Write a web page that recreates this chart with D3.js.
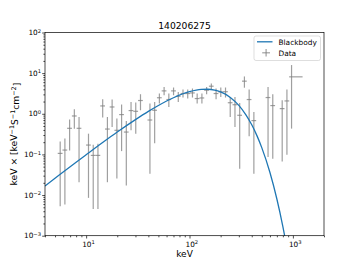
<!DOCTYPE html>
<html>
<head>
<meta charset="utf-8">
<script src="https://cdn.jsdelivr.net/npm/d3@7"></script>
<style>
  body { margin: 0; background: #fff; }
  svg { display: block; font-family: "DejaVu Sans", sans-serif; }
</style>
</head>
<body>
<div id="chart"></div>
<script>
// ---- data ----
var title = '140206275';

// binned spectrum (keV), x error bars
var energy = [5.61, 6.23, 6.92, 7.69, 8.54, 10.54, 11.71, 13.01, 14.46, 16.06,
    17.84, 19.83, 22.03, 24.47, 27.19, 30.20, 33.56, 41.42, 46.01, 51.12,
    56.79, 63.09, 70.09, 77.87, 86.50, 96.1, 106.8, 118.6, 131.8, 146.4,
    162.6, 180.7, 200.7, 223.0, 247.7, 275.3, 305.8, 339.8, 377.5, 419.4,
    575.1, 638.9, 788.2, 875.7, 971];
var energyErrLo = [0.30, 0.33, 0.37, 0.41, 0.45, 0.56, 0.62, 0.69, 0.77, 0.85,
    0.95, 1.05, 1.17, 1.30, 1.44, 1.60, 1.78, 2.20, 2.44, 2.71,
    3.01, 3.34, 3.71, 4.13, 4.58, 5.1, 5.7, 6.3, 7.0, 7.8,
    8.6, 9.6, 10.6, 11.8, 13.1, 14.6, 16.2, 18.0, 20.0, 22.2,
    30.5, 33.9, 41.8, 46.4, 51];
var energyErrHi = [0.30, 0.33, 0.37, 0.41, 0.45, 0.56, 0.62, 0.69, 0.77, 0.85,
    0.95, 1.05, 1.17, 1.30, 1.44, 1.60, 1.78, 2.20, 2.44, 2.71,
    3.01, 3.34, 3.71, 4.13, 4.58, 5.1, 5.7, 6.3, 7.0, 7.8,
    8.6, 9.6, 10.6, 11.8, 13.1, 14.6, 16.2, 18.0, 20.0, 22.2,
    30.5, 33.9, 41.8, 46.4, 270];

// E x N(E) and the ends of the y error bars
var flux = [0.106, 0.128, 0.439, 0.883, 0.439, 0.170, 0.0945, 0.0945, 1.56, 0.421,
    1.47, 0.392, 0.955, 0.355, 1.20, 1.15, 2.12, 0.703, 1.22, 2.48,
    3.66, 2.24, 3.66, 2.70, 3.15, 3.15, 3.26, 2.37, 2.45, 3.80,
    4.77, 3.15, 3.45, 3.49, 1.87, 1.67, 0.918, 6.35, 2.24, 0.679,
    2.51, 1.59, 1.34, 2.07, 8.11];
var fluxHigh = [0.209, 0.248, 0.719, 1.29, 0.834, 0.324, 0.174, 0.184, 2.28, 0.834,
    2.24, 0.761, 1.69, 0.664, 1.96, 1.89, 3.03, 1.79, 1.96, 3.15,
    4.59, 3.15, 4.43, 3.45, 3.96, 3.96, 4.19, 3.15, 3.15, 4.59,
    5.57, 4.19, 4.43, 4.43, 2.60, 2.60, 1.85, 8.29, 3.96, 1.11,
    4.59, 3.03, 2.15, 3.96, 15.8];
var fluxLow = [0.00529, 0.00582, 0.1256, 0.431, 0.0207, 0.00853, 0.00456, 0.00456, 0.806, 0.0207,
    0.472, 0.0255, 0.1206, 0.0172, 0.392, 0.324, 1.22, 0.0334, 0.187, 1.79,
    2.86, 1.47, 2.86, 1.96, 2.51, 2.37, 2.51, 1.79, 1.79, 3.03,
    3.96, 2.28, 2.60, 2.51, 0.834, 0.472, 0.0443, 4.38, 0.278, 0.0334,
    0.0858, 0.0783, 0.0671, 0.0984, 0.431];

// blackbody model curve
var modelEnergy = [4, 5, 6, 8, 10, 15, 20, 30, 40, 50, 70, 100, 130, 150, 175,
    200, 250, 300, 350, 400, 450, 500, 600, 700, 800, 900];
var modelFlux = [0.0167, 0.0258, 0.0369, 0.0642, 0.098, 0.210, 0.355, 0.718, 1.146, 1.60,
    2.48, 3.49, 3.97, 4.01, 3.82, 3.44, 2.49, 1.61, 0.956, 0.535,
    0.286, 0.147, 0.0358, 0.0080, 0.00168, 0.00034];

var xMajor = [10, 100, 1000];
var xExp = ['1', '2', '3'];
var yMajor = [1e-3, 1e-2, 1e-1, 1, 10, 100];
var yExp = ['\u22123', '\u22122', '\u22121', '0', '1', '2'];

// ---- layout ----
var W = 360, H = 270;
var plot = { left: 45, right: 324, top: 32.5, bottom: 235.7 };
var lineColor = '#1f77b4';
var barColor = '#808080';

var svg = d3.select('#chart').append('svg')
    .attr('width', W).attr('height', H);
svg.append('rect').attr('width', W).attr('height', H).attr('fill', '#fff');

var x = d3.scaleLog().domain([4, 2000]).range([plot.left, plot.right]);
var y = d3.scaleLog().domain([1e-3, 1e2]).range([plot.bottom, plot.top]);

// minor tick values for log axes
function minorTicks(scale) {
    var d = scale.domain(), out = [];
    var lo = Math.floor(Math.log10(d[0])), hi = Math.ceil(Math.log10(d[1]));
    for (var p = lo; p <= hi; p++) {
        for (var m = 2; m <= 9; m++) {
            var v = m * Math.pow(10, p);
            if (v >= d[0] && v <= d[1]) out.push(v);
        }
    }
    return out;
}

function styleAxis(g) {
    g.select('.domain').remove();
    g.selectAll('line').attr('stroke', '#000').attr('stroke-width', 0.7);
}

// x axis
svg.append('g').attr('transform', 'translate(0,' + plot.bottom + ')')
    .call(d3.axisBottom(x).tickValues(minorTicks(x)).tickSize(1.6).tickFormat(''))
    .call(styleAxis);
svg.append('g').attr('transform', 'translate(0,' + plot.bottom + ')')
    .call(d3.axisBottom(x).tickValues(xMajor).tickSize(2.8).tickFormat(''))
    .call(styleAxis);

// y axis
svg.append('g').attr('transform', 'translate(' + plot.left + ',0)')
    .call(d3.axisLeft(y).tickValues(minorTicks(y)).tickSize(1.6).tickFormat(''))
    .call(styleAxis);
svg.append('g').attr('transform', 'translate(' + plot.left + ',0)')
    .call(d3.axisLeft(y).tickValues(yMajor).tickSize(2.8).tickFormat(''))
    .call(styleAxis);

// power-of-ten labels with superscripts
function powerLabel(sel, exp) {
    sel.append('tspan').text('10');
    sel.append('tspan').attr('dy', '-0.45em').attr('font-size', '5.2px').text(exp);
}

xMajor.forEach(function(v, i) {
    var t = svg.append('text')
        .attr('x', x(v) - 4).attr('y', plot.bottom + 11)
        .attr('font-size', '7.3px').attr('fill', '#000');
    powerLabel(t, xExp[i]);
});
yMajor.forEach(function(v, i) {
    var t = svg.append('text')
        .attr('x', plot.left - 4).attr('y', y(v) + 2.6)
        .attr('text-anchor', 'end')
        .attr('font-size', '7.3px').attr('fill', '#000');
    powerLabel(t, yExp[i]);
});

// clip for the plot area
svg.append('clipPath').attr('id', 'clip')
    .append('rect')
    .attr('x', plot.left).attr('y', plot.top)
    .attr('width', plot.right - plot.left).attr('height', plot.bottom - plot.top);

// error bars
var bars = svg.append('g').attr('clip-path', 'url(#clip)');
for (var i = 0; i < energy.length; i++) {
    bars.append('line')
        .attr('x1', x(energy[i])).attr('x2', x(energy[i]))
        .attr('y1', y(fluxLow[i])).attr('y2', y(fluxHigh[i]))
        .attr('stroke', barColor).attr('stroke-width', 1.2).attr('opacity', 0.75);
    bars.append('line')
        .attr('x1', x(energy[i] - energyErrLo[i])).attr('x2', x(energy[i] + energyErrHi[i]))
        .attr('y1', y(flux[i])).attr('y2', y(flux[i]))
        .attr('stroke', barColor).attr('stroke-width', 1.2).attr('opacity', 0.75);
}

// blackbody curve
var modelPoints = modelEnergy.map(function(e, i) { return [e, modelFlux[i]]; });
var line = d3.line()
    .x(function(d) { return x(d[0]); })
    .y(function(d) { return y(d[1]); })
    .curve(d3.curveMonotoneX);
svg.append('path')
    .attr('clip-path', 'url(#clip)')
    .attr('d', line(modelPoints))
    .attr('fill', 'none')
    .attr('stroke', lineColor)
    .attr('stroke-width', 1.3);

// frame
svg.append('rect')
    .attr('x', plot.left).attr('y', plot.top)
    .attr('width', plot.right - plot.left).attr('height', plot.bottom - plot.top)
    .attr('fill', 'none').attr('stroke', '#000').attr('stroke-width', 0.7);

// title and axis labels
svg.append('text')
    .attr('x', (plot.left + plot.right) / 2).attr('y', 28.8)
    .attr('text-anchor', 'middle').attr('font-size', '9.2px')
    .text(title);

svg.append('text')
    .attr('x', (plot.left + plot.right) / 2).attr('y', 257)
    .attr('text-anchor', 'middle').attr('font-size', '9px')
    .text('keV');

var yl = svg.append('text')
    .attr('transform', 'translate(16.5,' + ((plot.top + plot.bottom) / 2) + ') rotate(-90)')
    .attr('text-anchor', 'middle').attr('font-size', '9.2px');
yl.append('tspan').text('keV \u00d7 [keV');
yl.append('tspan').attr('dy', '-0.45em').attr('font-size', '6.4px').text('\u22121');
yl.append('tspan').attr('dy', '0.45em').text('S');
yl.append('tspan').attr('dy', '-0.45em').attr('font-size', '6.4px').text('\u22121');
yl.append('tspan').attr('dy', '0.45em').text('cm');
yl.append('tspan').attr('dy', '-0.45em').attr('font-size', '6.4px').text('\u22122');
yl.append('tspan').attr('dy', '0.45em').text(']');

// legend
var legend = svg.append('g');
legend.append('rect')
    .attr('x', 254).attr('y', 36).attr('width', 66.5).attr('height', 24.5)
    .attr('rx', 2).attr('fill', '#fff').attr('fill-opacity', 0.8)
    .attr('stroke', '#d0d0d0').attr('stroke-width', 0.7);
legend.append('line')
    .attr('x1', 257).attr('x2', 272.5).attr('y1', 41.8).attr('y2', 41.8)
    .attr('stroke', lineColor).attr('stroke-width', 1.3);
legend.append('text').attr('x', 278.5).attr('y', 44.6)
    .attr('font-size', '7.4px').text('Blackbody');
legend.append('line')
    .attr('x1', 262.2).attr('x2', 270).attr('y1', 52.8).attr('y2', 52.8)
    .attr('stroke', barColor).attr('stroke-width', 1.2).attr('opacity', 0.75);
legend.append('line')
    .attr('x1', 266.1).attr('x2', 266.1).attr('y1', 49).attr('y2', 56.6)
    .attr('stroke', barColor).attr('stroke-width', 1.2).attr('opacity', 0.75);
legend.append('text').attr('x', 278.5).attr('y', 55.6)
    .attr('font-size', '7.4px').text('Data');
</script>
</body>
</html>
